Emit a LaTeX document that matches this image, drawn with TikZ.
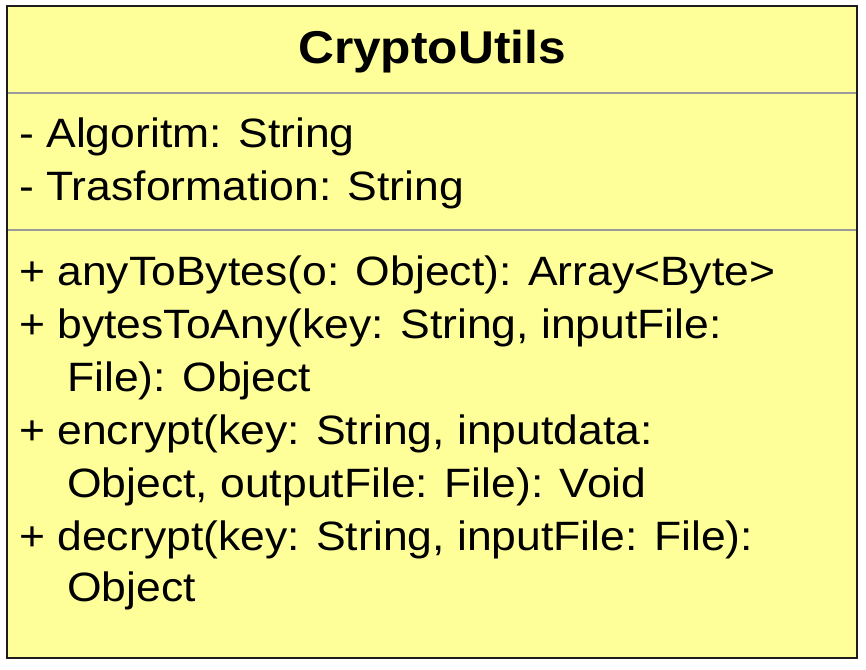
\documentclass[tikz,border=0pt]{standalone}
\usepackage{fontspec}
\newfontfamily\bodyfont[FakeStretch=1.085]{Liberation Sans}
\newfontfamily\headfont[FakeStretch=1.08]{Liberation Sans}
\definecolor{classfill}{HTML}{FFFF99}
\definecolor{rulegray}{HTML}{9A9A9A}
\definecolor{edgedark}{HTML}{1C1C1C}
\tikzset{
  classbox/.style={draw=edgedark, line width=2.5pt, fill=classfill},
  divider/.style={draw=rulegray, line width=2pt},
  classname/.style={anchor=base, inner sep=0pt, font=\headfont\bfseries\fontsize{46}{46}\selectfont},
  member/.style={anchor=base west, inner sep=0pt, font=\bodyfont\fontsize{41}{41}\selectfont},
}
\begin{document}
\begin{tikzpicture}[x=1pt, y=-1pt]
  \useasboundingbox (0,0) rectangle (866,669);
  % class frame and compartments
  \draw[classbox] (7,6) rectangle (857,658);
  \coordinate (d1l) at (8,93);  \coordinate (d1r) at (856,93);
  \coordinate (d2l) at (8,230); \coordinate (d2r) at (856,230);
  \draw[divider] (d1l) -- (d1r);
  \draw[divider] (d2l) -- (d2r);
  % class name
  \node[classname] (title) at (432,63.5) {CryptoUtils};
  % attributes
  \node[member] (a1) at (19,147.5) {- Algoritm: String};
  \node[member] (a2) at (19,200) {- Trasformation: String};
  % operations
  \node[member] (m1)  at (19,285.5) {+ anyToBytes(o: Object): Array<Byte>};
  \node[member] (m2)  at (19,338.5) {+ bytesToAny(key: String, inputFile:};
  \node[member] (m2b) at (67,391.5) {File): Object};
  \node[member] (m3)  at (19,444.5) {+ encrypt(key: String, inputdata:};
  \node[member] (m3b) at (67,497.5) {Object, outputFile: File): Void};
  \node[member] (m4)  at (19,550.5) {+ decrypt(key: String, inputFile: File):};
  \node[member] (m4b) at (67,601.5) {Object};
\end{tikzpicture}
\end{document}
